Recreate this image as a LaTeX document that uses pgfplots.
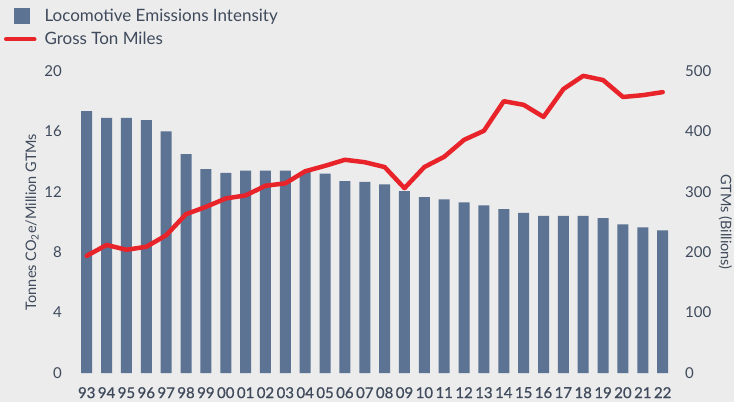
\documentclass[border=0pt]{standalone}
\usepackage{pgfplots}
\pgfplotsset{compat=1.18}
\usepackage{fontspec}
\setmainfont{Lato}
\newfontfamily\latosemi{Lato}[FakeBold=0.8]
\definecolor{bg}{HTML}{EBECEB}
\definecolor{barc}{HTML}{5C7393}
\definecolor{linec}{HTML}{E8232A}
\definecolor{txt}{HTML}{3F4A5C}
\pgfplotstableread{
x bar gtm
0 17.35 194
1 16.9 212
2 16.9 204
3 16.75 209
4 16.0 228
5 14.5 263
6 13.5 275
7 13.25 289
8 13.4 294
9 13.4 310
10 13.4 314
11 13.3 334
12 13.2 343
13 12.7 353
14 12.65 349
15 12.5 341
16 12.05 306
17 11.65 341
18 11.5 358
19 11.3 386
20 11.1 401
21 10.85 450
22 10.6 444
23 10.4 424
24 10.4 470
25 10.4 492
26 10.25 485
27 9.85 457
28 9.65 460
29 9.45 465
}\data
\begin{document}
\begin{tikzpicture}[x=1pt,y=1pt]
\fill[bg] (0,0) rectangle (734,402);
\begin{axis}[
  at={(76.8pt,29pt)}, anchor=south west,
  scale only axis, width=595.8pt, height=302pt,
  xmin=-0.5, xmax=29.5, ymin=0, ymax=20,
  axis x line*=bottom, axis y line*=left,
  axis line style={draw=none}, major tick length=0pt,
  xtick={0,...,29},
  xticklabels={93,94,95,96,97,98,99,00,01,02,03,04,05,06,07,08,09,10,11,12,13,14,15,16,17,18,19,20,21,22},
  ytick={0,4,8,12,16,20},
  /pgf/number format/assume math mode=true,
  yticklabel style={font=\fontsize{15}{18}\selectfont, text=txt, anchor=east, inner sep=0pt, xshift=-14.8pt},
  xticklabel style={font=\fontsize{15}{18}\selectfont\latosemi, text=txt, anchor=north, inner sep=0pt, yshift=-14pt},
  ylabel={Tonnes CO\textsubscript{2}e/Million GTMs},
  ylabel style={at={(rel axis cs:-0.0752,0.5)}, anchor=center, font=\fontsize{14.5}{17}\selectfont, text=txt},
]
\addplot[ybar, bar width=11pt, fill=barc, draw=none] table[x=x,y=bar] {\data};
\end{axis}
\begin{axis}[
  at={(76.8pt,29pt)}, anchor=south west,
  scale only axis, width=595.8pt, height=302pt,
  xmin=-0.5, xmax=29.5, ymin=0, ymax=500,
  axis x line=none, axis y line*=right,
  axis line style={draw=none}, major tick length=0pt,
  ytick={0,100,...,500},
  /pgf/number format/assume math mode=true,
  yticklabel style={font=\fontsize{15}{18}\selectfont, text=txt, anchor=west, inner sep=0pt, xshift=12.4pt},
  ylabel={GTMs (Billions)},
  ylabel style={at={(rel axis cs:1.0885,0.5)}, anchor=center, rotate=180, font=\fontsize{14.5}{17}\selectfont, text=txt},
  legend style={at={(rel axis cs:-0.1225,1.212)}, anchor=north west, draw=none, fill=none, inner sep=0pt,
    font=\fontsize{17}{20}\selectfont, text=txt, row sep=5pt,
    nodes={inner sep=2pt},
    /tikz/every odd column/.append style={column sep=6pt}},
  legend cell align=left,
]
\addlegendimage{legend image code/.code={\fill[barc,draw=none] (9pt,-8pt) rectangle (25pt,8pt); \path[draw=none,fill=none] (0pt,0pt) -- (31pt,0pt);}}
\addlegendentry{Locomotive Emissions Intensity}
\addplot[linec, line width=4.5pt, line join=round, line cap=round,
  legend image code/.code={\draw[linec, line width=4.5pt, line cap=round] (1.5pt,0pt) -- (29.5pt,0pt);}] table[x=x,y=gtm] {\data};
\addlegendentry{Gross Ton Miles}
\end{axis}
\pgfresetboundingbox
\useasboundingbox (0,0) rectangle (734,402);
\end{tikzpicture}
\end{document}
